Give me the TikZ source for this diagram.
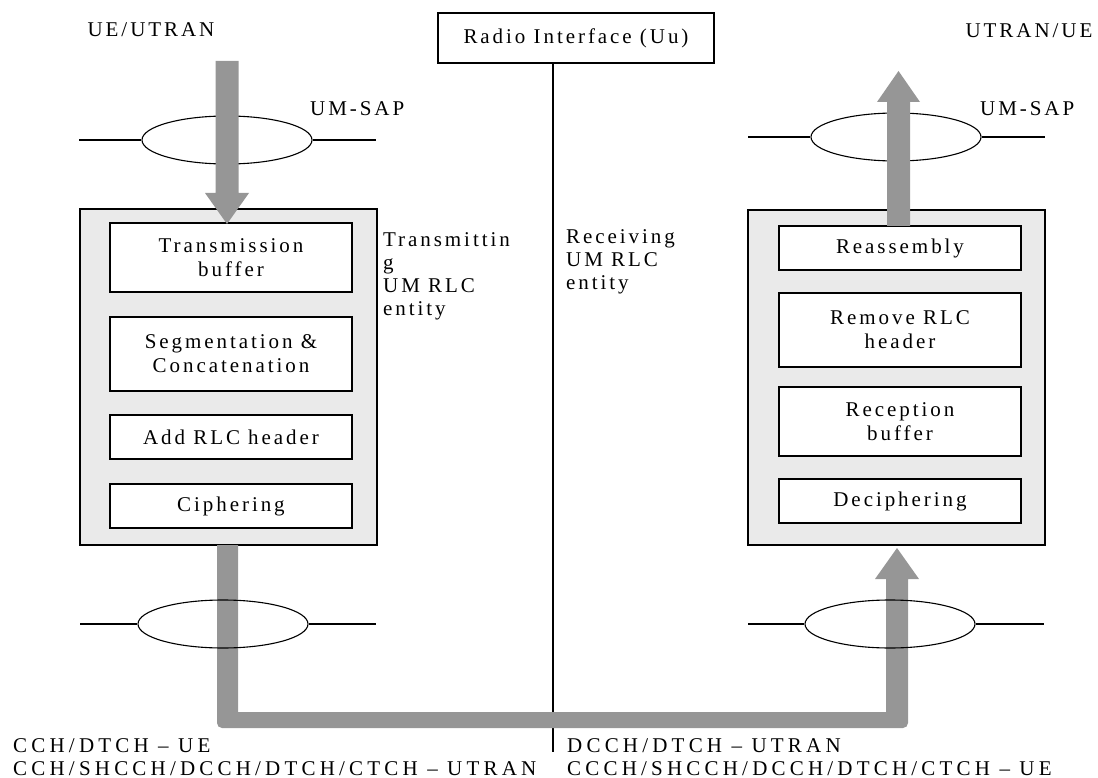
\documentclass[tikz,border=0pt]{standalone}
\usepackage{fontspec}
\setmainfont{Liberation Serif}[LetterSpace=14]
\usetikzlibrary{shapes.geometric}
\definecolor{flowgray}{RGB}{150,150,150}
\definecolor{boxfill}{RGB}{234,234,234}
\begin{document}
\begin{tikzpicture}[x=1pt,y=-1pt,
  font=\fontsize{21}{24}\selectfont,
  outerbox/.style={draw, line width=1.3pt, fill=boxfill, inner sep=0pt, minimum width=297pt},
  stagebox/.style={draw, line width=1.3pt, fill=white, align=center, inner sep=0pt, minimum width=242pt},
  sap/.style={draw, ellipse, line width=1.1pt, inner sep=0pt, minimum width=170pt, minimum height=48pt},
  sapline/.style={line width=1.1pt},
  lbl/.style={inner sep=0pt},
  multi/.style={inner sep=0pt, align=left, font=\fontsize{21}{23}\selectfont},
  chan/.style={inner sep=0pt, align=left, font=\fontsize{21}{23}\selectfont\addfontfeature{LetterSpace=20}},
  flow/.style={fill=flowgray, draw=none}
]
\useasboundingbox (0,0) rectangle (1098,778);

% headings
\node[lbl, anchor=base] (ueutran) at (151,37) {UE/UTRAN};
\node[lbl, anchor=base] (utranue) at (1029,38) {UTRAN/UE};
\node[draw, line width=1.3pt, minimum width=276pt, minimum height=50pt, inner sep=0pt] (radio) at (576,38) {Radio Interface (Uu)};
\coordinate (uubot) at (553,752);
\draw[line width=1.2pt] (radio.south -| uubot) -- (uubot);

% SAP labels
\node[lbl, anchor=base west] (sapL) at (310,116) {UM-SAP};
\node[lbl, anchor=base west] (sapR) at (980,116) {UM-SAP};

% outer entity boxes
\node[outerbox, minimum height=336pt] (txbox) at (228.5,377) {};
\node[outerbox, minimum height=335pt] (rxbox) at (896.5,377.5) {};

% transmitting stages
\node[stagebox, minimum height=69pt] (tb)  at (231,257.5) {Transmission\\buffer};
\node[stagebox, minimum height=74pt] (seg) at (231,354) {Segmentation \&\\Concatenation};
\node[stagebox, minimum height=44pt] (add) at (231,437) {Add RLC header};
\node[stagebox, minimum height=44pt] (cip) at (231,506) {Ciphering};

% receiving stages
\node[stagebox, minimum height=44pt] (rea) at (900,248) {Reassembly};
\node[stagebox, minimum height=74pt] (rem) at (900,330) {Remove RLC\\header};
\node[stagebox, minimum height=69pt] (rec) at (900,421.5) {Reception\\buffer};
\node[stagebox, minimum height=44pt] (dec) at (900,501) {Deciphering};

% entity labels (anchored at the baseline of their last line)
\node[multi, anchor=base west] (txlbl) at (383,315) {Transmittin\\g\\UM RLC\\entity};
\node[multi, anchor=base west] (rxlbl) at (566,289) {Receiving\\UM RLC\\entity};

% top SAP ellipses and lines
\node[sap] (e1) at (227,140) {};
\node[sap] (e2) at (896,137) {};
\coordinate (e1l) at (79,140);  \coordinate (e1r) at (376,140);
\coordinate (e2l) at (748,137); \coordinate (e2r) at (1045,137);
\draw[sapline] (e1l) -- (e1.west);
\draw[sapline] (e1.east) -- (e1r);
\draw[sapline] (e2l) -- (e2.west);
\draw[sapline] (e2.east) -- (e2r);

% top block arrows (drawn over the SAP ellipses)
\fill[flow] (215.5,61) -- (238.5,61) -- (238.5,193) -- (249,193) -- (227,224) -- (205,193) -- (215.5,193) -- cycle;
\fill[flow] (887,226) -- (910,226) -- (910,102) -- (920,102) -- (898.5,71) -- (877,102) -- (887,102) -- cycle;

% bottom flow: out of the transmitting box, across, into the receiving box
\fill[flow] (217,545) -- (238,545) -- (238,712) -- (886,712) -- (886,579) -- (875,579) -- (897,548) -- (919,579) -- (908,579)
  [rounded corners=5pt] -- (908,728) -- (217,728) [sharp corners] -- cycle;

% bottom SAP ellipses and lines
\node[sap] (e3) at (223,624) {};
\node[sap] (e4) at (890,624) {};
\coordinate (e3l) at (80,624);  \coordinate (e3r) at (376,624);
\coordinate (e4l) at (748,624); \coordinate (e4r) at (1044,624);
\draw[sapline] (e3l) -- (e3.west);
\draw[sapline] (e3.east) -- (e3r);
\draw[sapline] (e4l) -- (e4.west);
\draw[sapline] (e4.east) -- (e4r);

% channel labels (anchored at the baseline of their last line)
\node[chan, anchor=base west] (chL) at (13,775) {CCH/DTCH – UE\\CCH/SHCCH/DCCH/DTCH/CTCH – UTRAN};
\node[chan, anchor=base west] (chR) at (567,775) {DCCH/DTCH – UTRAN\\CCCH/SHCCH/DCCH/DTCH/CTCH – UE};
\end{tikzpicture}
\end{document}
